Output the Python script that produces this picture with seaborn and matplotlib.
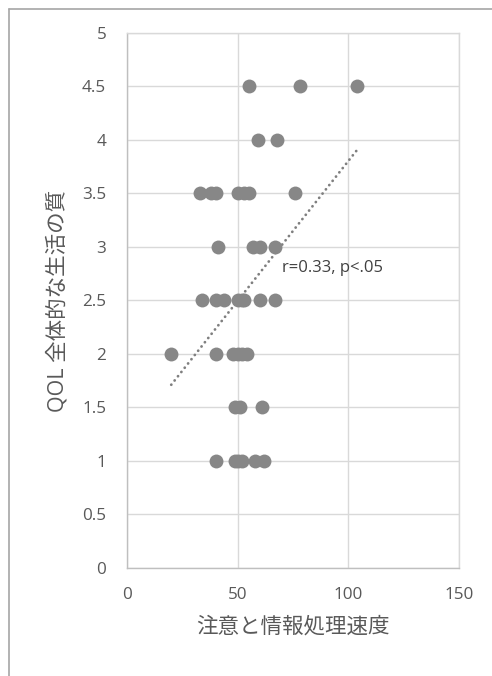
import matplotlib
matplotlib.use("Agg")
import matplotlib.pyplot as plt
import seaborn as sns
import pandas as pd
from matplotlib.lines import Line2D

# ---- data ----
x_45 = [55, 78, 104]
x_40 = [59, 68]
x_35 = [33, 38, 40, 50, 53, 55, 76]
x_30 = [41, 57, 60, 67]
x_25 = [34, 40, 44, 50, 52, 53, 60, 67]
x_20 = [20, 40, 48, 50, 52, 54]
x_15 = [49, 51, 61]
x_10 = [40, 49, 50, 52, 58, 62]
rows = {4.5: x_45, 4.0: x_40, 3.5: x_35, 3.0: x_30,
        2.5: x_25, 2.0: x_20, 1.5: x_15, 1.0: x_10}

x_ticks = [0, 50, 100, 150]
y_ticks = [0, 0.5, 1, 1.5, 2, 2.5, 3, 3.5, 4, 4.5, 5]
y_tick_labels = ["0", "0.5", "1", "1.5", "2", "2.5", "3", "3.5", "4", "4.5", "5"]
x_label = "注意と情報処理速度"
y_label = "QOL 全体的な生活の質"
annotation = "r=0.33, p<.05"

xs, ys = [], []
for yv, xl in rows.items():
    for xv in xl:
        xs.append(xv)
        ys.append(yv)
df = pd.DataFrame({"x": xs, "y": ys})

sns.set_style("white")
plt.rcParams["font.family"] = ["Open Sans", "Noto Sans CJK JP", "DejaVu Sans"]

fig = plt.figure(figsize=(4.92, 6.76), dpi=100)
ax = fig.add_axes([0.2581, 0.1598, 0.6748, 0.7914])

point_color = "#878787"
sns.regplot(data=df, x="x", y="y", ax=ax, ci=None,
            scatter_kws=dict(s=100, color=point_color, alpha=1, linewidths=0, zorder=3),
            line_kws=dict(color="#7f7f7f", lw=2.0, linestyle=(0, (0.05, 1.9)),
                          dash_capstyle="round", zorder=2))

ax.set_xlim(0, 150)
ax.set_ylim(0, 5)
ax.set_xticks(x_ticks)
ax.set_xticklabels([str(t) for t in x_ticks])
ax.set_yticks(y_ticks)
ax.set_yticklabels(y_tick_labels)
ax.grid(True, color="#d9d9d9", lw=1.0, zorder=0)
ax.set_axisbelow(True)

for s in ["top", "right"]:
    ax.spines[s].set_color("#d9d9d9")
    ax.spines[s].set_linewidth(1.0)
for s in ["left", "bottom"]:
    ax.spines[s].set_color("#bfbfbf")
    ax.spines[s].set_linewidth(1.0)

ax.tick_params(axis="both", length=0, labelsize=12.3, labelcolor="#595959")
ax.tick_params(axis="x", pad=14)
ax.tick_params(axis="y", pad=15)

ax.set_xlabel(x_label, fontsize=15.5, color="#595959",
              family=["Noto Sans CJK JP", "DejaVu Sans"], labelpad=9)
ax.set_ylabel(y_label, fontsize=15.5, color="#595959",
              family=["Open Sans", "Noto Sans CJK JP", "DejaVu Sans"], labelpad=10)

ax.text(70, 2.80, annotation, fontsize=12, color="#404040", va="center", ha="left")

# outer chart frame (left and top edges visible)
fig.add_artist(Line2D([8.5 / 492, 8.5 / 492], [0, 1 - 8.5 / 676],
                      transform=fig.transFigure, color="#a6a6a6", lw=1.2))
fig.add_artist(Line2D([8.5 / 492, 1], [1 - 8.5 / 676, 1 - 8.5 / 676],
                      transform=fig.transFigure, color="#a6a6a6", lw=1.2))

fig.savefig("out.png", dpi=100)
